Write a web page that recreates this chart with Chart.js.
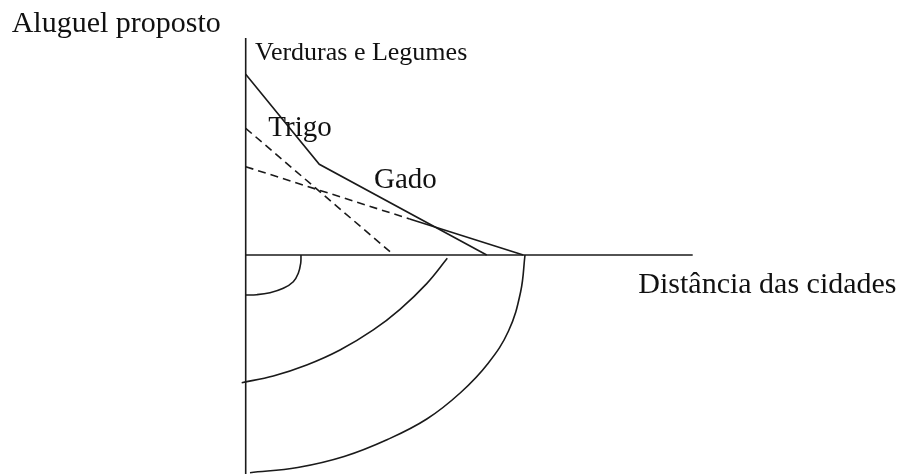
<!DOCTYPE html>
<html lang="pt">
<head>
<meta charset="utf-8">
<title>Aluguel proposto x Distância das cidades</title>
<script src="https://cdn.jsdelivr.net/npm/chart.js@4/dist/chart.umd.min.js"></script>
<style>
  html, body { margin: 0; padding: 0; background: #ffffff; }
  #wrap { width: 900px; height: 475px; }
</style>
</head>
<body>
<div id="wrap"><canvas id="chart" width="900" height="475"></canvas></div>
<script>
// Rent-gradient lines (x = distance from the city, y = proposed rent; the market is at 0,0)
const verdurasX = [0, 73.6, 241];
const verdurasY = [180.7, 90.7, 0];

const trigoX = [0, 144.3];
const trigoY = [126.7, 3.3];

const gadoDashX = [0, 164];
const gadoDashY = [88.3, 36];
const gadoSolidX = [164, 277.6];
const gadoSolidY = [36, 0];

// Land-use rings projected below the distance axis
const ring1X = [55.3, 55, 52.6, 47.6, 37.6, 24.3, 11, 0];
const ring1Y = [0, -8.3, -18.3, -26.7, -33.3, -37.7, -39.7, -40];

const ring2X = [201.6, 181, 154.3, 127.6, 94.3, 61, 27.6, -4];
const ring2Y = [-3.3, -28.6, -54.3, -74.9, -95, -110, -121, -127.7];

const ring3X = [279.3, 274.9, 262.8, 242.3, 215, 181.1, 141.8, 98.4, 52, 4.3];
const ring3Y = [0, -37, -76, -108.5, -137.5, -164, -184.5, -201.5, -212.5, -217.7];

// Axis extents
const rentAxisX = [0, 0];
const rentAxisY = [217, -219];
const distAxisX = [0, 447];
const distAxisY = [0, 0];

// Text annotations: left edge and baseline in data units
const labelText = ['Aluguel proposto', 'Verduras e Legumes', 'Trigo', 'Gado', 'Distância das cidades'];
const labelX = [-234, 9.3, 22.6, 128.3, 392.6];
const labelY = [223.3, 195, 119, 67.3, -37.7];
const labelSize = [30, 26, 29, 29, 30];

const toPoints = (xs, ys) => xs.map((x, i) => ({ x: x, y: ys[i] }));

const INK = '#1a1a1a';
const line = (xs, ys, extra) => Object.assign({
  data: toPoints(xs, ys),
  showLine: true,
  borderColor: INK,
  borderWidth: 1.6,
  pointRadius: 0,
  pointHoverRadius: 0,
  fill: false,
  tension: 0
}, extra || {});

const textPlugin = {
  id: 'diagramText',
  afterDatasetsDraw(chart) {
    const { ctx, scales } = chart;
    ctx.save();
    ctx.fillStyle = '#111111';
    ctx.textAlign = 'left';
    ctx.textBaseline = 'alphabetic';
    labelText.forEach((t, i) => {
      ctx.font = labelSize[i] + 'px "Liberation Serif", "Times New Roman", serif';
      ctx.fillText(t, scales.x.getPixelForValue(labelX[i]), scales.y.getPixelForValue(labelY[i]));
    });
    ctx.restore();
  }
};

new Chart(document.getElementById('chart'), {
  type: 'scatter',
  data: {
    datasets: [
      line(rentAxisX, rentAxisY),
      line(distAxisX, distAxisY),
      line(verdurasX, verdurasY),
      line(trigoX, trigoY, { borderDash: [8, 5] }),
      line(gadoDashX, gadoDashY, { borderDash: [8, 5] }),
      line(gadoSolidX, gadoSolidY),
      line(ring1X, ring1Y, { tension: 0.4 }),
      line(ring2X, ring2Y, { tension: 0.4 }),
      line(ring3X, ring3Y, { tension: 0.4 })
    ]
  },
  options: {
    responsive: false,
    devicePixelRatio: 1,
    animation: false,
    layout: { padding: 0 },
    plugins: { legend: { display: false }, tooltip: { enabled: false }, title: { display: false } },
    events: [],
    scales: {
      x: { type: 'linear', display: false, min: -245.7, max: 654.3 },
      y: { type: 'linear', display: false, min: -220, max: 255 }
    }
  },
  plugins: [textPlugin]
});
</script>
</body>
</html>
